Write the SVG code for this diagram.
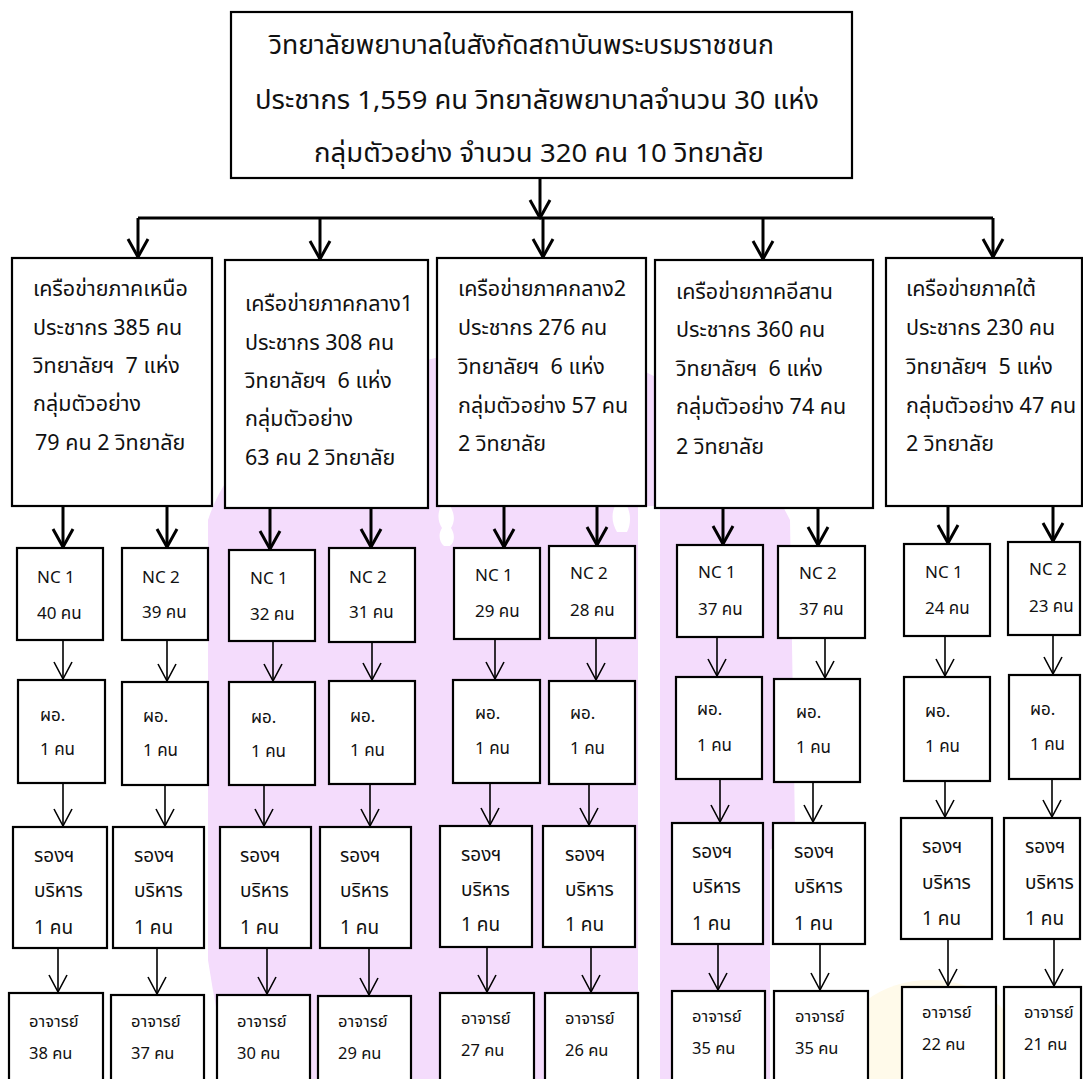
<svg xmlns="http://www.w3.org/2000/svg" width="1083" height="1079" viewBox="0 0 1083 1079">
<defs>
<style>
text{font-family:"Noto Sans Thai","Noto Sans Thai UI","Noto Sans","DejaVu Sans",sans-serif;fill:#111;font-weight:400}
.box{fill:#fff;stroke:#000;stroke-width:2.2}
.t1{font-size:26px}
.t2{font-size:21.5px}
.t3{font-size:17px}
.t4{font-size:19px}
.t5{font-size:16.5px}
.thick{stroke:#000;stroke-width:3;fill:none;marker-end:url(#hk)}
.thin{stroke:#000;stroke-width:1.6;fill:none;marker-end:url(#hn)}
.wm{fill:#f4dcfc}
.wo{fill:#fff}
</style>
<marker id="hk" markerUnits="userSpaceOnUse" markerWidth="24" markerHeight="26" refX="20" refY="13" orient="auto">
<path d="M2,3 L20,13 L2,23" fill="none" stroke="#000" stroke-width="3" stroke-linejoin="round"/>
</marker>
<marker id="hn" markerUnits="userSpaceOnUse" markerWidth="22" markerHeight="24" refX="19" refY="12" orient="auto">
<path d="M2,3 L19,12 L2,21" fill="none" stroke="#000" stroke-width="1.6" stroke-linejoin="round"/>
</marker>
</defs>
<rect width="1083" height="1079" fill="#fff"/>
<g id="watermark">
<path class="wm" d="M208,1079 L208,520 C240,420 380,350 540,345 C650,350 740,420 790,520 L795,830 L770,850 L770,1079 Z"/>
<path class="wo" d="M638,506 L660,506 L660,1079 L638,1079 Z"/>
<path class="wo" d="M441,506 C437,514 438,522 442,528 C438,534 439,542 444,546 L450,546 C455,542 455,534 451,528 C455,522 455,514 450,506 Z"/>
<path class="wo" d="M615,506 C611,514 612,524 617,532 L627,532 C631,524 631,514 627,506 Z"/>
<path class="wo" d="M208,960 C214,1000 222,1040 232,1079 L208,1079 Z"/>
<ellipse cx="930" cy="1050" rx="90" ry="70" fill="#fffaea"/>
</g>
<g id="connectors">
<line class="thick" x1="540" y1="178" x2="540" y2="218"/>
<polyline points="138,218 993,218" stroke="#000" stroke-width="3" fill="none"/>
<line class="thick" x1="138" y1="218" x2="138" y2="257"/>
<line class="thick" x1="320" y1="218" x2="320" y2="259"/>
<line class="thick" x1="543" y1="218" x2="543" y2="257"/>
<line class="thick" x1="763" y1="218" x2="763" y2="259"/>
<line class="thick" x1="993" y1="218" x2="993" y2="257"/>
<line class="thick" x1="63" y1="506" x2="63" y2="547"/>
<line class="thick" x1="167" y1="506" x2="167" y2="547"/>
<line class="thick" x1="270" y1="508" x2="270" y2="549"/>
<line class="thick" x1="371" y1="508" x2="371" y2="547"/>
<line class="thick" x1="504" y1="506" x2="504" y2="547"/>
<line class="thick" x1="597" y1="506" x2="597" y2="545"/>
<line class="thick" x1="723" y1="508" x2="723" y2="544"/>
<line class="thick" x1="818" y1="508" x2="818" y2="545"/>
<line class="thick" x1="948" y1="506" x2="948" y2="543"/>
<line class="thick" x1="1053" y1="506" x2="1053" y2="541"/>
<line class="thin" x1="63" y1="640" x2="63" y2="679"/>
<line class="thin" x1="167" y1="640" x2="167" y2="681"/>
<line class="thin" x1="273" y1="641" x2="273" y2="681"/>
<line class="thin" x1="372" y1="642" x2="372" y2="680"/>
<line class="thin" x1="495" y1="639" x2="495" y2="679"/>
<line class="thin" x1="596" y1="638" x2="596" y2="680"/>
<line class="thin" x1="717" y1="637" x2="717" y2="676"/>
<line class="thin" x1="825" y1="638" x2="825" y2="678"/>
<line class="thin" x1="945" y1="636" x2="945" y2="676"/>
<line class="thin" x1="1053" y1="635" x2="1053" y2="674"/>
<line class="thin" x1="63" y1="783" x2="63" y2="826"/>
<line class="thin" x1="165" y1="785" x2="165" y2="826"/>
<line class="thin" x1="264" y1="785" x2="264" y2="826"/>
<line class="thin" x1="370" y1="784" x2="370" y2="826"/>
<line class="thin" x1="490" y1="783" x2="490" y2="825"/>
<line class="thin" x1="589" y1="784" x2="589" y2="825"/>
<line class="thin" x1="720" y1="779" x2="720" y2="822"/>
<line class="thin" x1="813" y1="782" x2="813" y2="822"/>
<line class="thin" x1="945" y1="781" x2="945" y2="817"/>
<line class="thin" x1="1052" y1="779" x2="1052" y2="817"/>
<line class="thin" x1="58" y1="948" x2="58" y2="992"/>
<line class="thin" x1="157" y1="948" x2="157" y2="994"/>
<line class="thin" x1="267" y1="948" x2="267" y2="994"/>
<line class="thin" x1="369" y1="948" x2="369" y2="995"/>
<line class="thin" x1="487" y1="947" x2="487" y2="992"/>
<line class="thin" x1="591" y1="947" x2="591" y2="992"/>
<line class="thin" x1="718" y1="944" x2="718" y2="990"/>
<line class="thin" x1="820" y1="944" x2="820" y2="990"/>
<line class="thin" x1="948" y1="939" x2="948" y2="986"/>
<line class="thin" x1="1054" y1="939" x2="1054" y2="986"/>
</g>
<g id="top">
<rect class="box" x="231" y="12" width="621" height="166"/>
<text class="t1" x="269" y="54" textLength="505" lengthAdjust="spacingAndGlyphs">วิทยาลัยพยาบาลในสังกัดสถาบันพระบรมราชชนก</text>
<text class="t1" x="255" y="109" textLength="564" lengthAdjust="spacingAndGlyphs">ประชากร 1,559 คน วิทยาลัยพยาบาลจำนวน 30 แห่ง</text>
<text class="t1" x="314" y="162" textLength="450" lengthAdjust="spacingAndGlyphs">กลุ่มตัวอย่าง จำนวน 320 คน 10 วิทยาลัย</text>
</g>
<g id="net1">
<rect class="box" x="12" y="258" width="200" height="248"/>
<text class="t2" x="33" y="296">เครือข่ายภาคเหนือ</text>
<text class="t2" x="33" y="335">ประชากร 385 คน</text>
<text class="t2" x="33" y="373">วิทยาลัยฯ&#160; 7 แห่ง</text>
<text class="t2" x="33" y="411">กลุ่มตัวอย่าง</text>
<text class="t2" x="35" y="450">79 คน 2 วิทยาลัย</text>
</g>
<g id="net2">
<rect class="box" x="225" y="260" width="203" height="248"/>
<text class="t2" x="245" y="311">เครือข่ายภาคกลาง1</text>
<text class="t2" x="245" y="350">ประชากร 308 คน</text>
<text class="t2" x="245" y="388">วิทยาลัยฯ&#160; 6 แห่ง</text>
<text class="t2" x="245" y="426">กลุ่มตัวอย่าง</text>
<text class="t2" x="245" y="465">63 คน 2 วิทยาลัย</text>
</g>
<g id="net3">
<rect class="box" x="437" y="258" width="209" height="248"/>
<text class="t2" x="458" y="296">เครือข่ายภาคกลาง2</text>
<text class="t2" x="458" y="335">ประชากร 276 คน</text>
<text class="t2" x="458" y="374">วิทยาลัยฯ&#160; 6 แห่ง</text>
<text class="t2" x="458" y="413">กลุ่มตัวอย่าง 57 คน</text>
<text class="t2" x="458" y="451">2 วิทยาลัย</text>
</g>
<g id="net4">
<rect class="box" x="655" y="260" width="218" height="248"/>
<text class="t2" x="676" y="299">เครือข่ายภาคอีสาน</text>
<text class="t2" x="676" y="337">ประชากร 360 คน</text>
<text class="t2" x="676" y="376">วิทยาลัยฯ&#160; 6 แห่ง</text>
<text class="t2" x="676" y="414">กลุ่มตัวอย่าง 74 คน</text>
<text class="t2" x="676" y="454">2 วิทยาลัย</text>
</g>
<g id="net5">
<rect class="box" x="886" y="258" width="196" height="248"/>
<text class="t2" x="906" y="296">เครือข่ายภาคใต้</text>
<text class="t2" x="906" y="335">ประชากร 230 คน</text>
<text class="t2" x="906" y="374">วิทยาลัยฯ&#160; 5 แห่ง</text>
<text class="t2" x="906" y="413">กลุ่มตัวอย่าง 47 คน</text>
<text class="t2" x="906" y="451">2 วิทยาลัย</text>
</g>
<g id="nc-row">
<g id="nc1"><rect class="box" x="17" y="548" width="86" height="92"/><text class="t3" x="37" y="583">NC 1</text><text class="t3" x="37" y="619">40 คน</text></g>
<g id="nc2"><rect class="box" x="122" y="548" width="86" height="92"/><text class="t3" x="142" y="583">NC 2</text><text class="t3" x="142" y="618">39 คน</text></g>
<g id="nc3"><rect class="box" x="229" y="550" width="86" height="91"/><text class="t3" x="250" y="584">NC 1</text><text class="t3" x="250" y="620">32 คน</text></g>
<g id="nc4"><rect class="box" x="329" y="548" width="86" height="94"/><text class="t3" x="349" y="583">NC 2</text><text class="t3" x="349" y="618">31 คน</text></g>
<g id="nc5"><rect class="box" x="454" y="548" width="86" height="91"/><text class="t3" x="475" y="581">NC 1</text><text class="t3" x="475" y="617">29 คน</text></g>
<g id="nc6"><rect class="box" x="549" y="546" width="86" height="92"/><text class="t3" x="570" y="579">NC 2</text><text class="t3" x="570" y="616">28 คน</text></g>
<g id="nc7"><rect class="box" x="677" y="545" width="86" height="92"/><text class="t3" x="698" y="578">NC 1</text><text class="t3" x="698" y="615">37 คน</text></g>
<g id="nc8"><rect class="box" x="778" y="546" width="87" height="92"/><text class="t3" x="799" y="579">NC 2</text><text class="t3" x="799" y="615">37 คน</text></g>
<g id="nc9"><rect class="box" x="904" y="544" width="86" height="92"/><text class="t3" x="925" y="578">NC 1</text><text class="t3" x="925" y="614">24 คน</text></g>
<g id="nc10"><rect class="box" x="1008" y="542" width="72" height="93"/><text class="t3" x="1029" y="575">NC 2</text><text class="t3" x="1029" y="612">23 คน</text></g>
</g>
<g id="po-row">
<g id="po1"><rect class="box" x="18" y="680" width="87" height="103"/><text class="t3" x="40" y="721">ผอ.</text><text class="t3" x="40" y="755">1 คน</text></g>
<g id="po2"><rect class="box" x="122" y="682" width="86" height="103"/><text class="t3" x="143" y="722">ผอ.</text><text class="t3" x="143" y="756">1 คน</text></g>
<g id="po3"><rect class="box" x="229" y="682" width="86" height="103"/><text class="t3" x="251" y="723">ผอ.</text><text class="t3" x="251" y="757">1 คน</text></g>
<g id="po4"><rect class="box" x="329" y="681" width="86" height="103"/><text class="t3" x="350" y="722">ผอ.</text><text class="t3" x="350" y="756">1 คน</text></g>
<g id="po5"><rect class="box" x="453" y="680" width="87" height="103"/><text class="t3" x="475" y="719">ผอ.</text><text class="t3" x="475" y="754">1 คน</text></g>
<g id="po6"><rect class="box" x="549" y="681" width="86" height="103"/><text class="t3" x="570" y="719">ผอ.</text><text class="t3" x="570" y="754">1 คน</text></g>
<g id="po7"><rect class="box" x="676" y="677" width="86" height="102"/><text class="t3" x="697" y="715">ผอ.</text><text class="t3" x="697" y="751">1 คน</text></g>
<g id="po8"><rect class="box" x="774" y="679" width="86" height="103"/><text class="t3" x="796" y="718">ผอ.</text><text class="t3" x="796" y="753">1 คน</text></g>
<g id="po9"><rect class="box" x="904" y="677" width="86" height="104"/><text class="t3" x="925" y="717">ผอ.</text><text class="t3" x="925" y="752">1 คน</text></g>
<g id="po10"><rect class="box" x="1009" y="675" width="71" height="104"/><text class="t3" x="1030" y="715">ผอ.</text><text class="t3" x="1030" y="750">1 คน</text></g>
</g>
<g id="rong-row">
<g id="rg1"><rect class="box" x="13" y="827" width="94" height="121"/><text class="t4" x="34" y="862">รองฯ</text><text class="t4" x="34" y="897">บริหาร</text><text class="t4" x="34" y="934">1 คน</text></g>
<g id="rg2"><rect class="box" x="113" y="827" width="91" height="121"/><text class="t4" x="134" y="862">รองฯ</text><text class="t4" x="134" y="897">บริหาร</text><text class="t4" x="134" y="934">1 คน</text></g>
<g id="rg3"><rect class="box" x="220" y="827" width="91" height="121"/><text class="t4" x="240" y="862">รองฯ</text><text class="t4" x="240" y="897">บริหาร</text><text class="t4" x="240" y="934">1 คน</text></g>
<g id="rg4"><rect class="box" x="320" y="827" width="91" height="121"/><text class="t4" x="340" y="862">รองฯ</text><text class="t4" x="340" y="897">บริหาร</text><text class="t4" x="340" y="934">1 คน</text></g>
<g id="rg5"><rect class="box" x="440" y="826" width="92" height="121"/><text class="t4" x="461" y="861">รองฯ</text><text class="t4" x="461" y="896">บริหาร</text><text class="t4" x="461" y="931">1 คน</text></g>
<g id="rg6"><rect class="box" x="543" y="826" width="92" height="121"/><text class="t4" x="565" y="861">รองฯ</text><text class="t4" x="565" y="896">บริหาร</text><text class="t4" x="565" y="931">1 คน</text></g>
<g id="rg7"><rect class="box" x="672" y="823" width="91" height="121"/><text class="t4" x="692" y="858">รองฯ</text><text class="t4" x="692" y="893">บริหาร</text><text class="t4" x="692" y="930">1 คน</text></g>
<g id="rg8"><rect class="box" x="773" y="823" width="92" height="121"/><text class="t4" x="794" y="858">รองฯ</text><text class="t4" x="794" y="893">บริหาร</text><text class="t4" x="794" y="930">1 คน</text></g>
<g id="rg9"><rect class="box" x="901" y="818" width="91" height="121"/><text class="t4" x="922" y="853">รองฯ</text><text class="t4" x="922" y="889">บริหาร</text><text class="t4" x="922" y="925">1 คน</text></g>
<g id="rg10"><rect class="box" x="1004" y="818" width="76" height="121"/><text class="t4" x="1025" y="853">รองฯ</text><text class="t4" x="1025" y="889">บริหาร</text><text class="t4" x="1025" y="925">1 คน</text></g>
</g>
<g id="ajarn-row">
<g id="aj1"><rect class="box" x="9" y="993" width="94" height="100"/><text class="t5" x="29" y="1027">อาจารย์</text><text class="t5" x="29" y="1059">38 คน</text></g>
<g id="aj2"><rect class="box" x="111" y="995" width="93" height="100"/><text class="t5" x="131" y="1027">อาจารย์</text><text class="t5" x="131" y="1059">37 คน</text></g>
<g id="aj3"><rect class="box" x="217" y="995" width="93" height="100"/><text class="t5" x="237" y="1027">อาจารย์</text><text class="t5" x="237" y="1059">30 คน</text></g>
<g id="aj4"><rect class="box" x="318" y="996" width="93" height="100"/><text class="t5" x="338" y="1027">อาจารย์</text><text class="t5" x="338" y="1059">29 คน</text></g>
<g id="aj5"><rect class="box" x="440" y="993" width="94" height="100"/><text class="t5" x="461" y="1024">อาจารย์</text><text class="t5" x="461" y="1056">27 คน</text></g>
<g id="aj6"><rect class="box" x="545" y="993" width="93" height="100"/><text class="t5" x="565" y="1024">อาจารย์</text><text class="t5" x="565" y="1056">26 คน</text></g>
<g id="aj7"><rect class="box" x="672" y="991" width="93" height="100"/><text class="t5" x="692" y="1022">อาจารย์</text><text class="t5" x="692" y="1054">35 คน</text></g>
<g id="aj8"><rect class="box" x="774" y="991" width="94" height="100"/><text class="t5" x="795" y="1022">อาจารย์</text><text class="t5" x="795" y="1054">35 คน</text></g>
<g id="aj9"><rect class="box" x="902" y="987" width="94" height="100"/><text class="t5" x="922" y="1018">อาจารย์</text><text class="t5" x="922" y="1050">22 คน</text></g>
<g id="aj10"><rect class="box" x="1004" y="987" width="77" height="100"/><text class="t5" x="1024" y="1018">อาจารย์</text><text class="t5" x="1024" y="1050">21 คน</text></g>
</g>
</svg>
